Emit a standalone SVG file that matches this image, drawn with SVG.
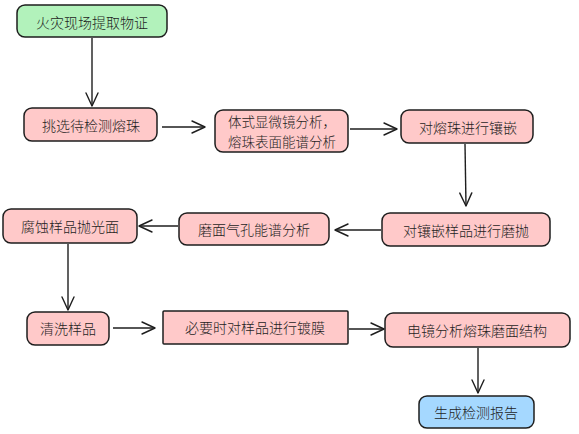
<svg xmlns="http://www.w3.org/2000/svg" width="579" height="434" viewBox="0 0 579 434">
<defs>
<marker id="arr" markerUnits="userSpaceOnUse" markerWidth="16" markerHeight="16" viewBox="-14 -8 16 16" refX="0" refY="0" orient="auto">
<polyline points="-13,-6 0,0 -13,6" fill="none" stroke="#1e1e1e" stroke-width="1.4" stroke-linecap="round" stroke-linejoin="round"/>
</marker>
</defs>
<style>
.n{stroke:#1e1e1e;stroke-width:1.5}
.p{fill:#ffc9c9}
.g{fill:#b2f2bb}
.b{fill:#a5d8ff}
text{font-family:"Noto Sans CJK SC","Noto Sans",sans-serif;font-size:14px;font-weight:300;fill:#1e1e1e;text-anchor:middle;dominant-baseline:central}
.s{font-size:13.5px}
.c{fill:none;stroke:#1e1e1e;stroke-width:1.4;marker-end:url(#arr)}
</style>
<rect width="579" height="434" fill="#ffffff"/>
<g id="n1"><rect class="n g" x="17" y="5" width="150" height="32" rx="8"/><text x="92" y="22">火灾现场提取物证</text></g>
<g id="n2"><rect class="n p" x="24" y="108" width="133" height="33" rx="8"/><text x="91" y="125">挑选待检测熔珠</text></g>
<g id="n3"><rect class="n p" x="215" y="110" width="133" height="42" rx="8"/><text class="s" x="282" y="121">体式显微镜分析，</text><text class="s" x="282" y="141">熔珠表面能谱分析</text></g>
<g id="n4"><rect class="n p" x="401" y="110" width="132" height="33" rx="8"/><text x="468" y="127">对熔珠进行镶嵌</text></g>
<g id="n5"><rect class="n p" x="382" y="213" width="168" height="33" rx="8"/><text x="466" y="230">对镶嵌样品进行磨抛</text></g>
<g id="n6"><rect class="n p" x="179" y="213" width="150" height="32" rx="8"/><text x="254" y="229">磨面气孔能谱分析</text></g>
<g id="n7"><rect class="n p" x="3" y="209" width="134" height="34" rx="8"/><text x="70" y="226">腐蚀样品抛光面</text></g>
<g id="n8"><rect class="n p" x="27" y="312" width="82" height="33" rx="8"/><text x="68" y="328">清洗样品</text></g>
<g id="n9"><rect class="n p" x="163" y="311" width="185" height="33" rx="1"/><text x="255" y="327">必要时对样品进行镀膜</text></g>
<g id="n10"><rect class="n p" x="385" y="313" width="185" height="34" rx="8"/><text x="477" y="330">电镜分析熔珠磨面结构</text></g>
<g id="n11"><rect class="n b" x="419" y="396" width="115" height="32" rx="8"/><text x="476" y="412">生成检测报告</text></g>
<g id="connectors">
<path class="c" d="M92 38 L92 106"/>
<path class="c" d="M162 127 L205 127"/>
<path class="c" d="M350 129 L397 129"/>
<path class="c" d="M465 144 L466 206"/>
<path class="c" d="M381 230 L335 230"/>
<path class="c" d="M178 226 L139 226"/>
<path class="c" d="M68 244 L68 310"/>
<path class="c" d="M113 328 L155 328"/>
<path class="c" d="M349 329 L384 329"/>
<path class="c" d="M478 348 L478 393"/>
</g>
</svg>
